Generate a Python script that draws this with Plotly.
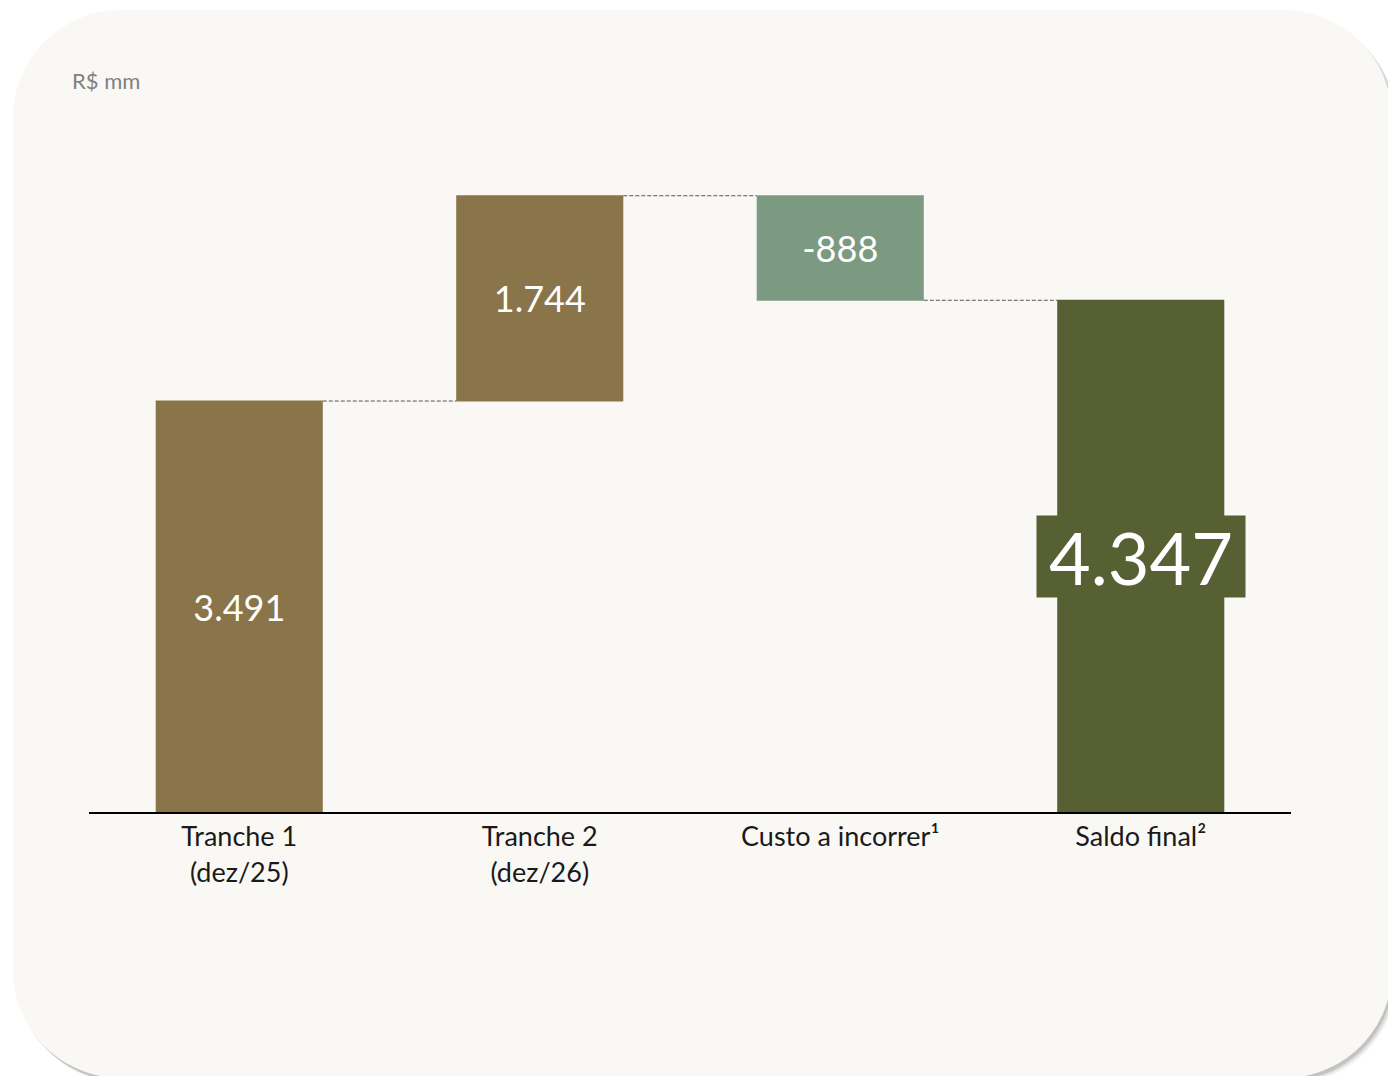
import plotly.graph_objects as go

# ---- data ----
categories = ["Tranche 1<br>(dez/25)", "Tranche 2<br>(dez/26)", "Custo a incorrer¹", "Saldo final²"]
values = [3491, 1744, -888, 4347]
measures = ["relative", "relative", "relative", "total"]
unit_label = "R$ mm"

def fmt(v):
    return f"{v:,}".replace(",", ".")

labels = [fmt(v) for v in values]
bar_text = labels[:3] + [""]

W, H = 1388, 1076
FONT = "Lato"
L_M, R_M, T_M, B_M = 89, 97, 100, 264
PW, PH = W - L_M - R_M, H - T_M - B_M

def px(x, y):
    # pixel -> paper coords (relative to plot area)
    return (x - L_M) / PW, (H - B_M - y) / PH

def rounded_rect(x0, y0, x1, y1, r):
    k = 0.5523 * r
    def P(x, y):
        a, b = px(x, y)
        return f"{a:.5f},{b:.5f}"
    d = f"M {P(x0 + r, y0)} L {P(x1 - r, y0)} "
    d += f"C {P(x1 - r + k, y0)} {P(x1, y0 + r - k)} {P(x1, y0 + r)} "
    d += f"L {P(x1, y1 - r)} "
    d += f"C {P(x1, y1 - r + k)} {P(x1 - r + k, y1)} {P(x1 - r, y1)} "
    d += f"L {P(x0 + r, y1)} "
    d += f"C {P(x0 + r - k, y1)} {P(x0, y1 - r + k)} {P(x0, y1 - r)} "
    d += f"L {P(x0, y0 + r)} "
    d += f"C {P(x0, y0 + r - k)} {P(x0 + r - k, y0)} {P(x0 + r, y0)} Z"
    return d

shapes = []
for dx, dy, op in [(5, 6, 0.05), (4, 4, 0.08), (2, 3, 0.12)]:
    shapes.append(dict(type="path", xref="paper", yref="paper", layer="below",
                       path=rounded_rect(13 + dx, 10 + dy, 1392 + dx, 1078 + dy, 108),
                       fillcolor=f"rgba(0,0,0,{op})", line=dict(width=0)))
shapes.append(dict(type="path", xref="paper", yref="paper", layer="below",
                   path=rounded_rect(13, 10, 1392, 1078, 108),
                   fillcolor="#f9f8f4", line=dict(width=0)))

fig = go.Figure(go.Waterfall(
    x=categories,
    y=values,
    measure=measures,
    text=bar_text,
    textposition="inside",
    insidetextanchor="middle",
    textfont=dict(family=FONT, size=36, color="white"),
    width=0.556,
    increasing=dict(marker=dict(color="#8a7449")),
    decreasing=dict(marker=dict(color="#7c9a82")),
    totals=dict(marker=dict(color="#566032")),
    connector=dict(mode="between", line=dict(color="#555555", width=1, dash="4px,2px")),
    hoverinfo="skip",
))

ymax = PH / 0.11772
ux, uy = px(70, 80)

fig.update_layout(
    width=W, height=H,
    margin=dict(l=L_M, r=R_M, t=T_M, b=B_M),
    paper_bgcolor="white",
    plot_bgcolor="rgba(0,0,0,0)",
    showlegend=False,
    shapes=shapes,
    font=dict(family=FONT),
    xaxis=dict(showline=True, linecolor="black", linewidth=2, ticks="",
               showgrid=False, zeroline=False,
               tickfont=dict(family=FONT, size=27, color="#1a1a1a"),
               range=[-0.5, 3.5]),
    yaxis=dict(visible=False, range=[0, ymax], showgrid=False, zeroline=False),
    annotations=[
        dict(x=categories[3], y=values[3] / 2, xref="x", yref="y",
             text=labels[3], showarrow=False,
             font=dict(family=FONT, size=72, color="white"),
             bgcolor="#566032", width=188, height=61, borderpad=10),
        dict(x=ux, y=uy, xref="paper", yref="paper",
             xanchor="left", yanchor="middle", text=unit_label, showarrow=False,
             font=dict(family=FONT, size=22, color="#808080")),
    ],
)

fig.write_html("out.html", config={"displayModeBar": False},
               post_script="document.body.style.margin='0';document.body.style.overflow='hidden';")
